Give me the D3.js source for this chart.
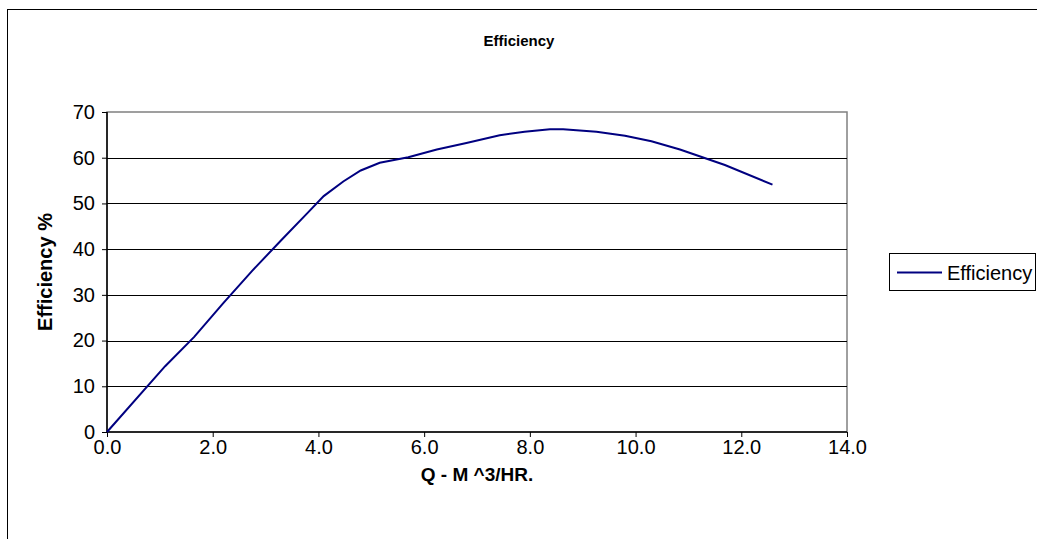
<!DOCTYPE html>
<html><head><meta charset="utf-8">
<script src="https://cdn.jsdelivr.net/npm/d3@7"></script>
<style>
body{margin:0;background:#fff;}
svg{display:block;font-family:"Liberation Sans",Arial,sans-serif;}
</style></head>
<body><svg id="c" width="1037" height="539"></svg>
<script>
const flowQ = [0, 1.1, 1.65, 2.2, 2.75, 3.3, 3.8, 4.1, 4.47, 4.8, 5.16, 5.7, 6.24, 6.8, 7.43, 7.9, 8.38, 8.63, 9.26, 9.8, 10.3, 10.84, 11.69, 12.59];
const efficiency = [0, 14.4, 20.8, 28.2, 35.3, 42, 48, 51.6, 54.8, 57.2, 58.9, 60.1, 61.8, 63.2, 64.9, 65.7, 66.2, 66.2, 65.7, 64.8, 63.6, 61.8, 58.4, 54.1];
const xTicks = [0, 2, 4, 6, 8, 10, 12, 14];
const yTicks = [0, 10, 20, 30, 40, 50, 60, 70];
const seriesName = "Efficiency";
const titleText = "Efficiency";
const xTitle = "Q - M ^3/HR.";
const yTitle = "Efficiency %";

const FONT = "'Liberation Sans',Arial,sans-serif";
const svg = d3.select("#c");
// chart area border
svg.append("rect").attr("x",7.5).attr("y",9.5).attr("width",1040).attr("height",540)
  .attr("fill","#fff").attr("stroke","#000").attr("stroke-width",1);

const L=107, R=847, T=112, B=432;
const x = d3.scaleLinear().domain([0,14]).range([L,R]);
const y = d3.scaleLinear().domain([0,70]).range([B,T]);

// plot area border (gray)
svg.append("rect").attr("x",L).attr("y",T).attr("width",R-L).attr("height",B-T)
  .attr("fill","#fff").attr("stroke","#808080").attr("stroke-width",1.5);

// gridlines
svg.append("g").selectAll("line").data(yTicks.filter(d=>d>0 && d<70)).join("line")
  .attr("x1",L).attr("x2",R).attr("y1",d=>Math.round(y(d))+0.5).attr("y2",d=>Math.round(y(d))+0.5)
  .attr("stroke","#000").attr("stroke-width",1);

// axes
const yAxis = d3.axisLeft(y).tickValues(yTicks).tickSize(5).tickPadding(7).tickFormat(d3.format("d"));
const gy = svg.append("g").attr("transform",`translate(${L},0)`).call(yAxis);
const xAxis = d3.axisBottom(x).tickValues(xTicks).tickSize(5).tickPadding(3).tickFormat(d3.format(".1f"));
const gx = svg.append("g").attr("transform",`translate(0,${B})`).call(xAxis);
[gx,gy].forEach(g=>{
  g.select(".domain").attr("stroke","#000").attr("stroke-width",1.5);
  g.selectAll(".tick line").attr("stroke","#000");
  g.selectAll("text").attr("font-size",20).attr("fill","#000").attr("font-family",FONT);
});
gx.select(".domain").attr("d",`M${L},0H${R}`);
gy.select(".domain").attr("d",`M0,${T}V${B}`);

// line
const line = d3.line().x((d,i)=>x(flowQ[i])).y(d=>y(d));
svg.append("path").datum(efficiency).attr("d",line).attr("fill","none")
  .attr("stroke","#000080").attr("stroke-width",2);

// titles
svg.append("text").attr("x",519).attr("y",46).attr("text-anchor","middle")
  .attr("font-size",15).attr("font-weight","bold").text(titleText);
svg.append("text").attr("x",477).attr("y",481).attr("text-anchor","middle")
  .attr("font-size",19).attr("font-weight","bold").text(xTitle);
svg.append("text").attr("transform",`translate(52,${(T+B)/2}) rotate(-90)`).attr("text-anchor","middle")
  .attr("font-size",20).attr("font-weight","bold").text(yTitle);

// legend
const lg = svg.append("g");
lg.append("rect").attr("x",889.5).attr("y",253.5).attr("width",146).attr("height",37)
  .attr("fill","#fff").attr("stroke","#000");
lg.append("line").attr("x1",897).attr("x2",942).attr("y1",272.5).attr("y2",272.5)
  .attr("stroke","#000080").attr("stroke-width",2);
lg.append("text").attr("x",947).attr("y",280).attr("font-size",20).text(seriesName);
</script></body></html>
